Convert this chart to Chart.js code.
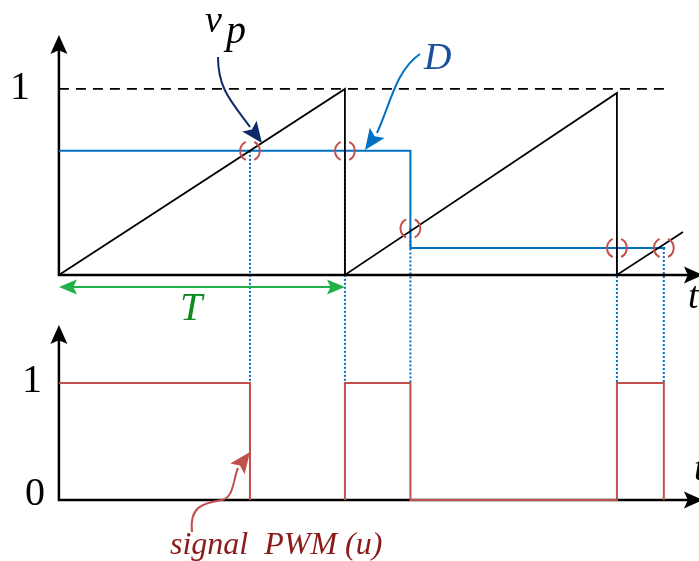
<!DOCTYPE html>
<html>
<head>
<meta charset="utf-8">
<script src="https://cdn.jsdelivr.net/npm/chart.js@4.4.1/dist/chart.umd.min.js"></script>
<style>
  html, body { margin: 0; padding: 0; background: #fff; overflow: hidden; }
</style>
</head>
<body>
<canvas id="c" width="699" height="561"></canvas>
<script>
// time is in units of the carrier period T
const sawT = [0, 1, 1, 1.951, 1.951, 2.182];
const sawV = [0, 1, 0, 0.978, 0, 0.231];
const refT = [0, 2.12];
const refV = [1, 1];
const dutyT = [0, 1.229, 1.229, 2.12];
const dutyV = [0.667, 0.667, 0.145, 0.145];
// comparator crossings (circled)
const crossT = [0.668, 1, 1.229, 1.951, 2.115];
const crossV = [0.667, 0.667, 0.25, 0.145, 0.145];
// PWM output u
const pwmT = [0, 0.668, 0.668, 0.668, 1, 1, 1.229, 1.229, 1.951, 1.951, 2.115, 2.115];
const pwmV = [1, 1, 0, null, 0, 1, 1, 0, 0, 1, 1, 0];

const pts = (xs, ys) => xs.map((x, i) => ({ x, y: ys[i] }));
const SERIF = '"Liberation Serif", "DejaVu Serif", serif';

function head(ctx, tx, ty, ang, len, wid, color) {
  ctx.save();
  ctx.translate(tx, ty);
  ctx.rotate(ang);
  ctx.fillStyle = color;
  ctx.beginPath();
  ctx.moveTo(0, 0);
  ctx.lineTo(-len, -wid / 2);
  ctx.lineTo(-len * 0.8, 0);
  ctx.lineTo(-len, wid / 2);
  ctx.closePath();
  ctx.fill();
  ctx.restore();
}

// start point, list of bezier segments [c1x,c1y,c2x,c2y,x,y], arrow tip
function curveArrow(ctx, start, segs, tip, color) {
  ctx.strokeStyle = color;
  ctx.lineWidth = 2;
  ctx.beginPath();
  ctx.moveTo(start[0], start[1]);
  segs.forEach((s) => ctx.bezierCurveTo(s[0], s[1], s[2], s[3], s[4], s[5]));
  ctx.stroke();
  const last = segs[segs.length - 1];
  const ang = Math.atan2(tip[1] - last[5], tip[0] - last[4]);
  head(ctx, tip[0], tip[1], ang, 21, 18, color);
}

const deco = {
  id: 'deco',
  beforeDatasetsDraw(chart) {
    const { ctx, scales: { x, y, yb } } = chart;
    ctx.save();
    // dotted drop lines from crossings to the PWM plot
    ctx.strokeStyle = '#0070c0';
    ctx.lineWidth = 2;
    ctx.setLineDash([2, 2]);
    crossT.forEach((t, i) => {
      const px = x.getPixelForValue(t);
      ctx.beginPath();
      ctx.moveTo(px, y.getPixelForValue(crossV[i]));
      ctx.lineTo(px, yb.getPixelForValue(1));
      ctx.stroke();
    });
    ctx.setLineDash([]);
    // axes
    ctx.strokeStyle = '#000';
    ctx.lineWidth = 2.5;
    const x0 = x.getPixelForValue(0), xEnd = x.getPixelForValue(2.252);
    [[y, 1.29], [yb, 1.496]].forEach(([s, top]) => {
      const b = s.getPixelForValue(0), tp = s.getPixelForValue(top);
      ctx.beginPath();
      ctx.moveTo(x0, tp + 10);
      ctx.lineTo(x0, b);
      ctx.lineTo(xEnd - 10, b);
      ctx.stroke();
      head(ctx, x0, tp, -Math.PI / 2, 19, 17, '#000');
      head(ctx, xEnd, b, 0, 19, 17, '#000');
    });
    ctx.restore();
  },
  afterDatasetsDraw(chart) {
    const { ctx, scales: { x, y } } = chart;
    ctx.save();
    // circles around crossings
    ctx.strokeStyle = '#c0504d';
    ctx.lineWidth = 2;
    crossT.forEach((t, i) => {
      const px = x.getPixelForValue(t), py = y.getPixelForValue(crossV[i]);
      ctx.beginPath();
      ctx.arc(px, py, 10, Math.PI * 0.64, Math.PI * 1.36);
      ctx.stroke();
      ctx.beginPath();
      ctx.arc(px, py, 10, -Math.PI * 0.36, Math.PI * 0.36);
      ctx.stroke();
    });
    // T span arrow
    const x0 = x.getPixelForValue(0), x1 = x.getPixelForValue(1);
    const ty = y.getPixelForValue(0) + 12;
    ctx.strokeStyle = '#22b04b';
    ctx.lineWidth = 2;
    ctx.beginPath();
    ctx.moveTo(x0 + 10, ty);
    ctx.lineTo(x1 - 10, ty);
    ctx.stroke();
    head(ctx, x0, ty, Math.PI, 18, 15, '#22b04b');
    head(ctx, x1, ty, 0, 18, 15, '#22b04b');

    // annotation arrows
    curveArrow(ctx, [218, 57], [[218, 88, 230, 100, 250, 127]], [262, 143], '#0d2b6b');
    curveArrow(ctx, [420, 54], [[396, 70, 390, 105, 377, 133]], [365, 150], '#0070c0');
    curveArrow(ctx, [192, 532], [[189, 505, 205, 503, 222, 500], [234, 497, 233, 480, 238, 468]], [250, 452], '#c0504d');

    // text
    ctx.textBaseline = 'alphabetic';
    ctx.fillStyle = '#000';
    ctx.textAlign = 'center';
    ctx.font = '40px ' + SERIF;
    ctx.fillText('1', x0 - 39, y.getPixelForValue(1) + 10);
    ctx.fillText('1', x0 - 27, chart.scales.yb.getPixelForValue(1) + 9);
    ctx.fillText('0', x0 - 24, chart.scales.yb.getPixelForValue(0) + 5);
    ctx.textAlign = 'left';
    ctx.font = 'italic 38px ' + SERIF;
    ctx.fillText('v', 205, 32);
    ctx.font = 'italic 40px ' + SERIF;
    ctx.fillText('p', 226, 43);
    ctx.font = 'italic 38px ' + SERIF;
    ctx.fillText('t', 688, 308);
    ctx.fillText('t', 694, 480);
    ctx.fillStyle = '#1a4f9c';
    ctx.font = 'italic 38px ' + SERIF;
    ctx.fillText('D', 424, 69);
    ctx.fillStyle = '#0f8a1f';
    ctx.font = 'italic 40px ' + SERIF;
    ctx.fillText('T', 180, 320);
    ctx.fillStyle = '#8b1a1a';
    ctx.font = 'italic 32px ' + SERIF;
    ctx.fillText('signal  PWM (u)', 170, 554);
    ctx.restore();
  }
};

new Chart(document.getElementById('c'), {
  type: 'scatter',
  data: {
    datasets: [
      { data: pts(refT, refV), showLine: true, borderColor: '#000', borderWidth: 1.8, borderDash: [10, 7], pointRadius: 0 },
      { data: pts(sawT, sawV), showLine: true, borderColor: '#000', borderWidth: 1.8, pointRadius: 0 },
      { data: pts(dutyT, dutyV), showLine: true, borderColor: '#0070c0', borderWidth: 2, pointRadius: 0 },
      { data: pts(pwmT, pwmV), showLine: true, borderColor: '#c0504d', borderWidth: 2, pointRadius: 0, yAxisID: 'yb', spanGaps: false },
    ],
  },
  options: {
    responsive: false,
    animation: false,
    events: [],
    layout: { padding: 0 },
    plugins: { legend: { display: false }, tooltip: { enabled: false } },
    scales: {
      x: { type: 'linear', min: -0.206, max: 2.238, display: false },
      y: { min: -1.538, max: 1.478, display: false },
      yb: { position: 'left', min: -0.521, max: 4.274, display: false },
    },
  },
  plugins: [deco],
});
</script>
</body>
</html>
